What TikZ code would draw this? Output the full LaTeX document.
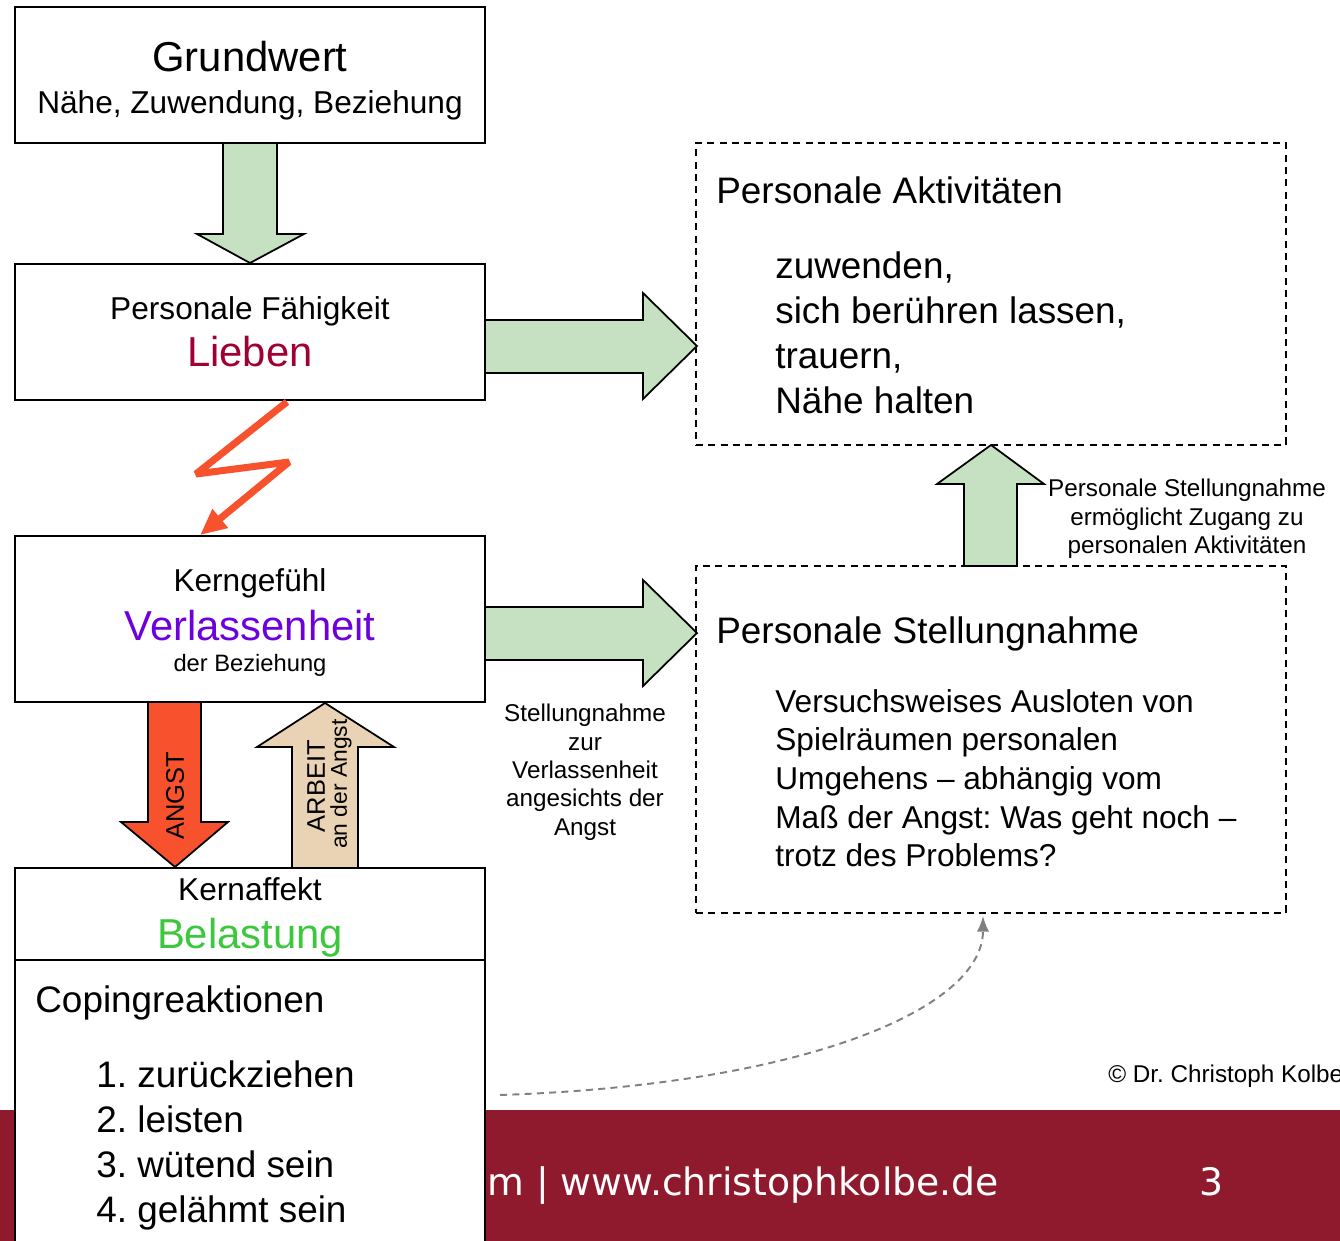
\documentclass[tikz,border=0pt]{standalone}
\usepackage{fontspec}
\setmainfont{Liberation Sans}
\newfontfamily\footfont{DejaVu Sans}
\usetikzlibrary{positioning}
\usetikzlibrary{calc}
\usetikzlibrary{arrows.meta}
\frenchspacing

\newcommand{\gross}{\fontsize{23.8}{28}\selectfont}
\newcommand{\mittel}{\fontsize{18}{22}\selectfont}
\newcommand{\liste}{\fontsize{21}{25.7}\selectfont}
\newcommand{\klein}{\fontsize{13.8}{16.1}\selectfont}

\begin{document}
\begin{tikzpicture}[
        x=0.02cm, y=-0.02cm,
        box/.style={rectangle, draw, line width=1pt, fill=white, minimum width=9.4cm},
        dashbox/.style={rectangle, draw, line width=1pt, dash pattern=on 4pt off 3pt, minimum width=11.8cm},
        pfeil/.style={draw, line width=1pt, line join=miter},
        txt/.style={inner sep=0pt, anchor=base},
    ]
        % Color palette
        \definecolor{gruen}{RGB}{198,224,194}
        \definecolor{angst}{RGB}{247,81,46}
        \definecolor{arbeit}{RGB}{234,211,181}
        \definecolor{lieben}{RGB}{160,0,50}
        \definecolor{verlassen}{RGB}{110,0,220}
        \definecolor{belastung}{RGB}{60,200,60}
        \definecolor{fuss}{RGB}{144,26,45}
        \useasboundingbox (0,0) rectangle (1340,1241);

        % Footer
        \fill[fuss] (0,1110) rectangle (1340,1241);
        \node[txt, anchor=base west, text=white, font=\footfont\fontsize{21.5}{26}\selectfont] (web) at (487,1195) {m | www.christophkolbe.de};
        \node[txt, text=white, font=\footfont\fontsize{21.5}{26}\selectfont] (seite) at (1212,1195) {3};

        % Left column
        \node[box, minimum height=2.72cm] (gw) at (250,75) {};
        \node[txt, font=\gross] at (250,71) {Grundwert};
        \node[txt, font=\mittel] at (250,113) {Nähe, Zuwendung, Beziehung};

        \node[box, minimum height=2.72cm] (pf) at (250,332) {};
        \node[txt, font=\mittel] at (250,319) {Personale Fähigkeit};
        \node[txt, font=\gross, text=lieben] at (250,366) {Lieben};

        \node[box, minimum height=3.32cm] (kg) at (250,619) {};
        \node[txt, font=\mittel] at (250,591) {Kerngefühl};
        \node[txt, font=\gross, text=verlassen] at (250,640) {Verlassenheit};
        \node[txt, font=\fontsize{13.5}{16}\selectfont] at (250,671) {der Beziehung};

        \node[box, minimum height=1.84cm] (ka) at (250,914) {};
        \node[txt, font=\mittel] at (250,900) {Kernaffekt};
        \node[txt, font=\gross, text=belastung] at (250,948) {Belastung};

        \node[box, minimum height=5.8cm] (cr) at (250,1105) {};
        \node[txt, anchor=base west, font=\liste] at (35,1012) {Copingreaktionen};
        \node[inner sep=0pt, anchor=north west, align=left, font=\liste] (liste) at (96,1060)
            {1. zurückziehen\\2. leisten\\3. wütend sein\\4. gelähmt sein};

        % Right column
        \node[dashbox, minimum height=6.04cm] (pa) at (991,294) {};
        \node[txt, anchor=base west, font=\liste] at (716,203) {Personale Aktivitäten};
        \node[inner sep=0pt, anchor=north west, align=left, font=\liste] (akt) at (775,251)
            {zuwenden,\\sich berühren lassen,\\trauern,\\Nähe halten};

        \node[dashbox, minimum height=6.94cm] (sn) at (991,739.5) {};
        \node[txt, anchor=base west, font=\liste] at (716,643) {Personale Stellungnahme};
        \node[inner sep=0pt, anchor=north west, align=left, font=\fontsize{18}{22}\selectfont] (spiel) at (775,689)
            {Versuchsweises Ausloten von\\Spielräumen personalen\\Umgehens – abhängig vom\\Maß der Angst: Was geht noch –\\trotz des Problems?};

        % Block arrows
        \filldraw[pfeil, fill=gruen] (223,143) -- (223,234) -- (197,234) -- (250,263) -- (304,234) -- (277,234) -- (277,143) -- cycle;
        \filldraw[pfeil, fill=gruen] (485,320) -- (643,320) -- (643,293) -- (697,346) -- (643,399) -- (643,373) -- (485,373) -- cycle;
        \filldraw[pfeil, fill=gruen] (485,607) -- (643,607) -- (643,580) -- (697,633) -- (643,686) -- (643,660) -- (485,660) -- cycle;
        \filldraw[pfeil, fill=gruen] (964,566) -- (964,484) -- (937,484) -- (991,445) -- (1044,484) -- (1017,484) -- (1017,566) -- cycle;
        \filldraw[pfeil, fill=angst] (148,702) -- (148,822) -- (121,822) -- (175,867) -- (228,822) -- (201,822) -- (201,702) -- cycle;
        \filldraw[pfeil, fill=arbeit] (292,868) -- (292,747) -- (257,747) -- (325,703) -- (394,747) -- (358,747) -- (358,868) -- cycle;

        \node[rotate=90, inner sep=0pt, font=\fontsize{14.5}{16}\selectfont] (angsttxt) at (175,796) {ANGST};
        \node[rotate=90, inner sep=0pt, font=\fontsize{14.5}{16}\selectfont] (arbeittxt) at (316,786) {ARBEIT};
        \node[rotate=90, inner sep=0pt, font=\fontsize{13}{15}\selectfont] (angsttxt2) at (341,784) {an der Angst};

        % Lightning
        \draw[angst, line width=4pt, line join=bevel, -{Triangle[length=15pt, width=13pt]}]
            ($(pf.south)+(37,1)$) -- (196,474) -- (289,462) -- ($(kg.north)+(-50,0)$);

        % Labels
        \node[inner sep=0pt, anchor=north, align=center, font=\klein] (stlabel) at (585,704)
            {Stellungnahme\\zur\\Verlassenheit\\angesichts der\\Angst};
        \node[inner sep=0pt, anchor=north, align=center, font=\klein] (zglabel) at (1187,479)
            {Personale Stellungnahme\\ermöglicht Zugang zu\\personalen Aktivitäten};
        \node[txt, anchor=base west, font=\klein] (copy) at (1108,1082) {© Dr. Christoph Kolbe};

        % Dashed link
        \coordinate (cs) at (500,1095);
        \draw[gray, line width=1.1pt, dash pattern=on 4pt off 3pt, -{Latex[length=9pt, width=7pt]}]
            (cs) .. controls (800,1085) and (983,1010) .. ($(sn.south)+(-8,2)$);
\end{tikzpicture}
\end{document}
